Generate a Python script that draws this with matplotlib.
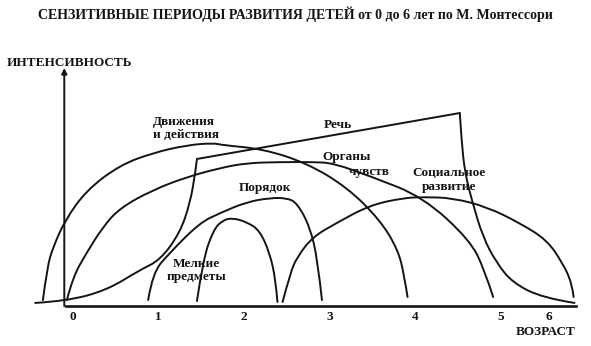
import matplotlib
matplotlib.use("Agg")
import matplotlib.pyplot as plt
from matplotlib.path import Path
from matplotlib.patches import PathPatch

# Sensitive periods (age in years, relative intensity)
movement_age = [-0.27, -0.22, -0.15, -0.01, 0.24, 0.63, 1.01, 1.41, 1.72, 1.83, 2.30, 2.81, 3.28, 3.67, 3.88, 3.95, 3.99]
movement_val = [0.25, 1.64, 2.48, 3.61, 4.87, 5.92, 6.43, 6.76, 6.85, 6.76, 6.60, 6.01, 5.00, 3.61, 2.35, 1.30, 0.38]

speech_rise_age = [-0.36, 0.01, 0.48, 0.86, 1.10, 1.33, 1.45, 1.51, 1.53]
speech_rise_val = [0.13, 0.21, 0.67, 1.51, 1.93, 3.07, 4.33, 5.59, 6.18]
speech_fall_age = [4.60, 4.62, 4.66, 4.75, 4.87, 5.03, 5.22, 5.57, 5.94]
speech_fall_val = [8.11, 6.97, 5.59, 4.33, 2.90, 1.81, 0.97, 0.34, 0.13]

senses_age = [0.01, 0.08, 0.24, 0.43, 0.63, 1.01, 1.41, 1.80, 2.11, 2.50, 2.88, 3.12, 3.58, 4.17, 4.72, 4.89, 4.99]
senses_val = [0.25, 1.22, 2.23, 3.32, 4.12, 4.87, 5.42, 5.80, 6.01, 6.05, 6.05, 6.01, 5.42, 4.58, 2.77, 1.51, 0.38]

order_age = [0.96, 1.01, 1.21, 1.56, 1.80, 2.11, 2.38, 2.58, 2.70, 2.85, 2.94, 2.99]
order_val = [0.25, 1.39, 2.23, 3.49, 3.91, 4.37, 4.54, 4.54, 4.33, 3.32, 1.93, 0.25]

small_age = [1.53, 1.60, 1.72, 1.83, 1.95, 2.11, 2.26, 2.38, 2.45, 2.47]
small_val = [0.21, 1.93, 3.19, 3.61, 3.70, 3.53, 3.19, 2.23, 1.09, 0.17]

social_age = [2.53, 2.62, 2.70, 2.88, 3.16, 3.55, 3.94, 4.17, 4.52, 4.92, 5.30, 5.62, 5.80, 5.91, 5.93]
social_val = [0.17, 1.39, 2.06, 2.90, 3.49, 4.24, 4.54, 4.58, 4.54, 4.16, 3.49, 2.77, 1.81, 0.97, 0.38]

tick_labels = ["0", "1", "2", "3", "4", "5", "6"]
tick_ages = [0, 1, 2, 3, 4, 5, 5.56]

INK = "#141414"
SERIF = ["Liberation Serif", "DejaVu Serif"]


def smooth_curve(xs, ys):
    """Quadratic Bezier path using the points as control points."""
    pts = list(zip(xs, ys))
    n = len(pts)
    verts = [pts[0]]
    codes = [Path.MOVETO]
    if n == 2:
        verts.append(pts[1])
        codes.append(Path.LINETO)
    for i in range(1, n - 1):
        ctrl = pts[i]
        if i == n - 2:
            end = pts[-1]
        else:
            end = ((pts[i][0] + pts[i + 1][0]) / 2, (pts[i][1] + pts[i + 1][1]) / 2)
        verts += [ctrl, end]
        codes += [Path.CURVE3, Path.CURVE3]
    return Path(verts, codes)


fig = plt.figure(figsize=(5.91, 3.46), dpi=100)
ax = fig.add_axes([0, 0, 1, 1])
ax.set_xlim(-0.771, 6.133)
ax.set_ylim(-1.68, 12.86)
ax.axis("off")

LW = 1.4
curve_kw = dict(facecolor="none", edgecolor=INK, lw=LW, capstyle="round", joinstyle="round")
for xs, ys in [(movement_age, movement_val), (speech_rise_age, speech_rise_val),
               (speech_fall_age, speech_fall_val), (senses_age, senses_val),
               (order_age, order_val), (small_age, small_val), (social_age, social_val)]:
    ax.add_patch(PathPatch(smooth_curve(xs, ys), **curve_kw))

# straight rise of speech between its two curved parts
ax.plot([speech_rise_age[-1], speech_fall_age[0]], [speech_rise_val[-1], speech_fall_val[0]],
        color=INK, lw=LW, solid_capstyle="round")

# axes
ax.plot([0, 5.96], [0, 0], color=INK, lw=1.9, clip_on=False)
ax.annotate("", xy=(-0.02, 10.0), xytext=(-0.02, 0),
            arrowprops=dict(arrowstyle="-|>", color=INK, lw=1.4, mutation_scale=8,
                            shrinkA=0, shrinkB=0))

bold = dict(family=SERIF, fontweight="bold", color=INK)
for pos, lab in zip(tick_ages, tick_labels):
    ax.text(pos + 0.08, -0.46, lab, ha="center", va="center", fontsize=9.5, **bold)

ax.text(5.25, -1.09, "ВОЗРАСТ", ha="left", va="center", fontsize=9.5, **bold)
ax.text(-0.69, 10.21, "ИНТЕНСИВНОСТЬ", ha="left", va="center", fontsize=9.5, **bold)

ax.text(1.02, 7.45, "Движения\nи действия", ha="left", va="center", fontsize=9.5,
        linespacing=1.15, **bold)
ax.text(3.17, 7.61, "Речь", ha="center", va="center", fontsize=9.5, **bold)
ax.text(3.28, 6.26, "Органы", ha="center", va="center", fontsize=9.5, **bold)
ax.text(3.54, 5.63, "чувств", ha="center", va="center", fontsize=9.5, **bold)
ax.text(4.48, 5.30, "Социальное\nразвитие", ha="center", va="center", fontsize=9.5,
        linespacing=1.15, **bold)
ax.text(2.32, 4.96, "Порядок", ha="center", va="center", fontsize=9.5, **bold)
ax.text(1.52, 1.50, "Мелкие\nпредметы", ha="center", va="center", fontsize=9.5,
        linespacing=1.15, **bold)

fig.text(0.5, 1 - 14 / 346, "СЕНЗИТИВНЫЕ ПЕРИОДЫ РАЗВИТИЯ ДЕТЕЙ от 0 до 6 лет по М. Монтессори",
         ha="center", va="center", fontsize=10.1, **bold)

fig.savefig("out.png", dpi=100, facecolor="white")
